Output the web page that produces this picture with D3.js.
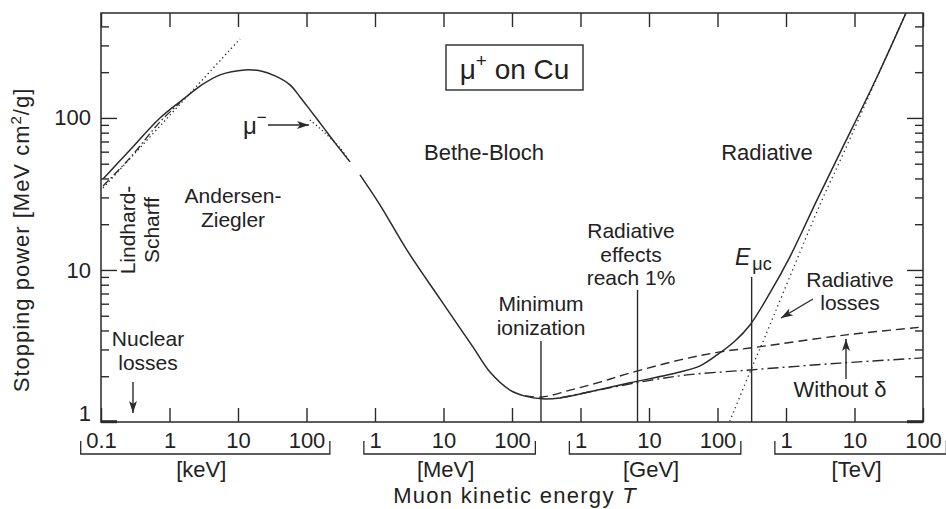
<!DOCTYPE html>
<html>
<head>
<meta charset="utf-8">
<script src="https://cdn.jsdelivr.net/npm/d3@7"></script>
<style>
  body { margin: 0; background: #fff; }
  svg { display: block; }
  text { font-family: "Liberation Sans", Arial, sans-serif; fill: #222; }
</style>
</head>
<body>
<svg id="chart" width="946" height="509"></svg>
<script>
// Decade ticks on the kinetic-energy axis, values in MeV
const energyTicks = [1e-4, 1e-3, 1e-2, 1e-1, 1, 10, 100, 1e3, 1e4, 1e5, 1e6, 1e7, 1e8];
const energyTickLabels = ["0.1", "1", "10", "100", "1", "10", "100", "1", "10", "100", "1", "10", "100"];
const unitNames = ["[keV]", "[MeV]", "[GeV]", "[TeV]"];
const unitFirst = [1e-4, 1, 1e3, 1e6];
const unitLast = [0.1, 100, 1e5, 1e8];

// Stopping-power ticks, MeV cm²/g
const powerMajor = [1, 10, 100];
const powerMinor = [2, 3, 4, 5, 6, 7, 8, 9, 20, 30, 40, 50, 60, 70, 80, 90, 200, 300, 400];

// Total stopping power of mu+ in copper: [T (MeV), dE/dx (MeV cm²/g)]
// Andersen-Ziegler region
const totalLow = [
  [1.07e-4, 39.7], [2.65e-4, 61.5], [7.26e-4, 100], [1.68e-3, 135.5], [2.79e-3, 162],
  [5.46e-3, 192], [1.26e-2, 207], [2.09e-2, 204], [3.47e-2, 189], [5.74e-2, 165],
  [8.03e-2, 137.5], [0.1125, 113], [0.174, 87.3], [0.261, 68.5], [0.431, 51.4]
];
// Bethe-Bloch and radiative regions
const totalHigh = [
  [0.604, 42.2], [1.18, 26.8], [2.93, 13.5], [8.89, 6.45], [27.0, 3.11], [47.7, 2.13],
  [93.5, 1.62], [155, 1.48], [274, 1.42], [502, 1.44], [1377, 1.58], [5280, 1.81],
  [28400, 2.13], [55600, 2.34], [98400, 2.76], [1.80e5, 3.41], [2.98e5, 4.35],
  [5.83e5, 7.06], [1.14e6, 12.2], [2.84e6, 28.9], [6.14e6, 58.9], [2.13e7, 186], [5.65e7, 491]
];
// Ionization loss without the density-effect correction (dashed)
const withoutDelta = [
  [155, 1.49], [274, 1.46], [703, 1.62], [1927, 1.83], [5280, 2.10], [28400, 2.56],
  [1.09e5, 2.89], [3.77e5, 3.11], [7.52e6, 3.74], [1e8, 4.22]
];
// Ionization loss alone (dash-dot)
const ionization = [
  [502, 1.44], [1377, 1.58], [7390, 1.83], [35900, 2.04], [2.98e5, 2.20], [6.14e6, 2.44], [1e8, 2.64]
];
// Radiative losses (dotted)
const radiativeLoss = [
  [1.35e5, 0.88], [1.52e5, 1.015], [2.98e5, 2.13], [4.93e5, 3.63], [1.89e6, 15.7],
  [3.36e6, 28.9], [7.26e6, 61.6], [2.13e7, 184], [5.65e7, 491]
];
// Lindhard-Scharff low-energy law (dotted)
const lindhardScharff = [[1.07e-4, 34.6], [1.07e-2, 331]];
// Low-energy fit joining the total curve (dash-dot)
const lowEnergyFit = [[1.07e-4, 35.7], [2.65e-4, 54.6], [7.26e-4, 94.2], [1.42e-3, 125.6]];
// mu- (Barkas effect) below the mu+ curve (dotted)
const muMinus = [[0.1125, 97.0], [0.186, 79.7], [0.308, 63.5], [0.431, 51.4]];

// Vertical markers: minimum ionization, radiative effects 1%, critical energy
const markerEnergy = [265, 6800, 3.15e5];
const markerTop = [3.41, 7.39, 9.0];

const svg = d3.select("#chart");
const plotLeft = 101, plotRight = 923, plotTop = 13, plotBottom = 422;
const ink = "#2a2a2a";

const x = d3.scaleLog().domain([1e-4, 1e8]).range([plotLeft, plotRight]);
const y = d3.scaleLog().domain([1, 490]).range([plotBottom, plotTop]);

const defs = svg.append("defs");
defs.append("clipPath").attr("id", "plot")
  .append("rect").attr("x", plotLeft).attr("y", plotTop)
  .attr("width", plotRight - plotLeft).attr("height", plotBottom - plotTop);
defs.append("marker").attr("id", "head")
  .attr("viewBox", "0 0 12 8").attr("refX", 12).attr("refY", 4)
  .attr("markerWidth", 13).attr("markerHeight", 8).attr("markerUnits", "userSpaceOnUse")
  .attr("orient", "auto")
  .append("path").attr("d", "M0,0 L12,4 L0,8 L3,4 Z").attr("fill", ink);

function styleAxis(g) {
  g.select(".domain").remove();
  g.attr("font-family", null).attr("font-size", null);
  g.selectAll(".tick line").attr("stroke", ink).attr("stroke-width", 1.4);
  g.selectAll(".tick text").attr("font-size", 22).attr("fill", ink);
}

// Bottom axis with labels
const xAxisG = svg.append("g").attr("transform", `translate(0,${plotBottom})`)
  .call(d3.axisBottom(x).tickValues(energyTicks)
    .tickFormat((d, i) => energyTickLabels[i])
    .tickSizeInner(-14).tickSizeOuter(0).tickPadding(10));
styleAxis(xAxisG);

// Top axis ticks
const xTopG = svg.append("g").attr("transform", `translate(0,${plotTop})`)
  .call(d3.axisTop(x).tickValues(energyTicks).tickFormat("").tickSizeInner(-14).tickSizeOuter(0));
styleAxis(xTopG);

// Left axis
const yAxisG = svg.append("g").attr("transform", `translate(${plotLeft},0)`)
  .call(d3.axisLeft(y).tickValues(powerMajor).tickFormat(d3.format("d"))
    .tickSizeInner(-16).tickSizeOuter(0).tickPadding(10));
styleAxis(yAxisG);
yAxisG.selectAll(".tick text").filter(d => d === 1).attr("dy", "-0.05em");
yAxisG.selectAll(".tick line").filter(d => d === 1).attr("stroke-width", 3).attr("y1", -0.8).attr("y2", -0.8);

const yMinorG = svg.append("g").attr("transform", `translate(${plotLeft},0)`)
  .call(d3.axisLeft(y).tickValues(powerMinor).tickFormat("").tickSizeInner(-8).tickSizeOuter(0));
styleAxis(yMinorG);

// Right axis
const yRightG = svg.append("g").attr("transform", `translate(${plotRight},0)`)
  .call(d3.axisRight(y).tickValues(powerMajor).tickFormat("").tickSizeInner(-16).tickSizeOuter(0));
styleAxis(yRightG);
yRightG.selectAll(".tick line").filter(d => d === 1).attr("stroke-width", 3).attr("y1", -0.8).attr("y2", -0.8);
const yRightMinorG = svg.append("g").attr("transform", `translate(${plotRight},0)`)
  .call(d3.axisRight(y).tickValues(powerMinor).tickFormat("").tickSizeInner(-8).tickSizeOuter(0));
styleAxis(yRightMinorG);

// Frame
svg.append("rect").attr("x", plotLeft).attr("y", plotTop)
  .attr("width", plotRight - plotLeft).attr("height", plotBottom - plotTop)
  .attr("fill", "none").attr("stroke", ink).attr("stroke-width", 1.5);

// Unit brackets under the energy labels
function textWidth(str, size) {
  const t = svg.append("text").attr("font-size", size).text(str);
  const w = t.node().getComputedTextLength();
  t.remove();
  return w;
}
const bracketY = 454, bracketRise = 13;
unitNames.forEach((name, i) => {
  const iFirst = energyTicks.indexOf(unitFirst[i]);
  const iLast = energyTicks.indexOf(unitLast[i]);
  const x0 = x(unitFirst[i]) - textWidth(energyTickLabels[iFirst], 22) / 2 - 5;
  const x1 = x(unitLast[i]) + textWidth(energyTickLabels[iLast], 22) / 2 + 5;
  svg.append("path")
    .attr("d", `M${x0},${bracketY - bracketRise}V${bracketY}H${x1}V${bracketY - bracketRise}`)
    .attr("fill", "none").attr("stroke", ink).attr("stroke-width", 1.3);
  svg.append("text").attr("x", (x0 + x1) / 2 - 4).attr("y", 477)
    .attr("text-anchor", "middle").attr("font-size", 22).text(name);
});

// Axis titles
const xTitle = svg.append("text").attr("x", 515).attr("y", 503).attr("text-anchor", "middle")
  .attr("font-size", 22).attr("letter-spacing", 1.3);
xTitle.append("tspan").text("Muon kinetic energy ");
xTitle.append("tspan").attr("font-style", "italic").text("T");

const yTitle = svg.append("text").attr("transform", "translate(29,240) rotate(-90)")
  .attr("text-anchor", "middle").attr("font-size", 22).attr("letter-spacing", 1);
yTitle.append("tspan").text("Stopping power [MeV cm");
yTitle.append("tspan").attr("font-size", 15).attr("dy", -8).text("2");
yTitle.append("tspan").attr("dy", 8).text("/g]");

// Curves
const line = d3.line().x(d => x(d[0])).y(d => y(d[1])).curve(d3.curveCatmullRom.alpha(0.5));
const curves = svg.append("g").attr("clip-path", "url(#plot)").attr("fill", "none").attr("stroke", ink);

curves.append("path").datum(lindhardScharff).attr("d", line)
  .attr("stroke-width", 1.3).attr("stroke-dasharray", "1.3,3");
curves.append("path").datum(lowEnergyFit).attr("d", line)
  .attr("stroke-width", 1.3).attr("stroke-dasharray", "8,3,1.5,3");
curves.append("path").datum(muMinus).attr("d", line)
  .attr("stroke-width", 1.3).attr("stroke-dasharray", "1.3,2.6");
curves.append("path").datum(withoutDelta).attr("d", line)
  .attr("stroke-width", 1.4).attr("stroke-dasharray", "9,5");
curves.append("path").datum(ionization).attr("d", line)
  .attr("stroke-width", 1.4).attr("stroke-dasharray", "11,4,2,4");
curves.append("path").datum(radiativeLoss).attr("d", line)
  .attr("stroke-width", 1.3).attr("stroke-dasharray", "1.3,3.5");
curves.append("path").datum(totalLow).attr("d", line).attr("stroke-width", 1.5);
curves.append("path").datum(totalHigh).attr("d", line).attr("stroke-width", 1.5);

// Marker lines
markerEnergy.forEach((e, i) => {
  svg.append("line").attr("x1", x(e)).attr("x2", x(e))
    .attr("y1", y(markerTop[i])).attr("y2", y(1))
    .attr("stroke", ink).attr("stroke-width", 1.4);
});

// Text annotations; multi-line labels are stacked tspans centred on (cx, midBaseline)
const noteSize = 21, noteStep = 23.5;
function label(lines, cx, midBaseline) {
  const first = midBaseline - (lines.length - 1) * noteStep / 2;
  const t = svg.append("text").attr("x", cx).attr("y", first)
    .attr("text-anchor", "middle").attr("font-size", noteSize);
  lines.forEach((s, i) => {
    t.append("tspan").attr("x", cx).attr("dy", i === 0 ? 0 : noteStep).text(s);
  });
  return t;
}
label(["Andersen-", "Ziegler"], 233, 215);
label(["Bethe-Bloch"], 484, 160).attr("font-size", 22);
label(["Radiative"], 767, 160).attr("font-size", 22);
label(["Nuclear", "losses"], 148, 358);
label(["Minimum", "ionization"], 541, 323);
label(["Radiative", "effects", "reach 1%"], 631, 261.5);
label(["Radiative", "losses"], 850, 298.5);
label(["Without \u03b4"], 840, 397).attr("font-size", 22);

// Lindhard-Scharff, set vertically
const ls = svg.append("text").attr("transform", "translate(147,230) rotate(-90)")
  .attr("text-anchor", "middle").attr("font-size", noteSize);
ls.append("tspan").attr("x", 0).attr("dy", -noteStep / 2).text("Lindhard-");
ls.append("tspan").attr("x", 0).attr("dy", noteStep).text("Scharff");

// mu- label
const muLabel = svg.append("text").attr("x", 243).attr("y", 134).attr("font-size", 24);
muLabel.append("tspan").text("\u03bc");
muLabel.append("tspan").attr("font-size", 17).attr("dy", -11).text("\u2212");

// Critical energy label
const ec = svg.append("text").attr("x", 735).attr("y", 265).attr("font-size", 23);
ec.append("tspan").attr("font-style", "italic").text("E");
ec.append("tspan").attr("font-size", 18).attr("dy", 5).attr("dx", 2).text("\u03bcc");

// Arrows
const arrows = [
  [133, 382, 133, 413],
  [268, 125, 309, 125],
  [813, 299, 781, 318],
  [846, 379, 846, 339]
];
arrows.forEach(a => {
  svg.append("line").attr("x1", a[0]).attr("y1", a[1]).attr("x2", a[2]).attr("y2", a[3])
    .attr("stroke", ink).attr("stroke-width", 1.4).attr("marker-end", "url(#head)");
});

// Title box
svg.append("rect").attr("x", 446).attr("y", 45).attr("width", 137).attr("height", 45)
  .attr("fill", "#fff").attr("stroke", ink).attr("stroke-width", 1.4);
const title = svg.append("text").attr("x", 514.5).attr("y", 79).attr("text-anchor", "middle").attr("font-size", 28);
title.append("tspan").text("\u03bc");
title.append("tspan").attr("font-size", 19).attr("dy", -12).text("+");
title.append("tspan").attr("dy", 12).text(" on Cu");
</script>
</body>
</html>
